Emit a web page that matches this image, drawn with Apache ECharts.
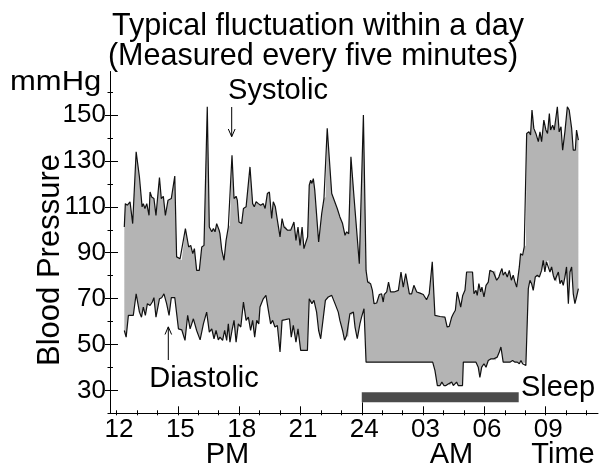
<!DOCTYPE html>
<html>
<head>
<meta charset="utf-8">
<script src="https://cdn.jsdelivr.net/npm/echarts@6/dist/echarts.min.js"></script>
<style>
html,body{margin:0;padding:0;background:#fff;}
#chart{width:599px;height:467px;}
</style>
</head>
<body>
<div id="chart"></div>
<script>
// ---- data (hours since midnight of day 1; values in mmHg) ----
const systolic = [
[12.38,101.2],[12.43,111.4],[12.53,110.7],[12.66,112.2],[12.79,102.7],[12.96,134.0],[13.12,123.0],[13.25,110.0],[13.31,111.4],[13.39,109.3],
[13.48,111.4],[13.59,106.3],[13.64,116.5],[13.72,114.3],[13.83,113.6],[13.93,106.3],[14.10,122.8],[14.19,113.6],[14.29,114.6],[14.39,106.3],
[14.52,112.9],[14.68,113.6],[14.85,123.4],[14.94,88.2],[15.11,87.4],[15.19,86.7],[15.37,100.5],[15.53,92.5],[15.63,93.2],[15.73,89.6],
[15.81,91.8],[15.92,82.3],[16.05,82.3],[16.17,92.5],[16.28,93.2],[16.44,153.6],[16.54,101.2],[16.66,99.1],[16.74,100.5],[16.82,99.1],
[16.90,102.7],[17.02,99.8],[17.06,98.3],[17.15,91.1],[17.26,86.7],[17.36,95.4],[17.47,101.2],[17.55,102.0],[17.65,132.5],[17.75,113.6],
[17.85,114.6],[17.91,112.9],[17.99,103.4],[18.12,102.7],[18.21,109.3],[18.34,110.0],[18.53,127.4],[18.66,111.4],[18.74,110.0],[18.83,112.2],
[18.94,111.4],[19.05,110.7],[19.18,111.4],[19.27,109.3],[19.38,115.8],[19.48,116.5],[19.59,104.9],[19.67,112.2],[19.77,110.0],[19.87,104.2],
[20.00,96.9],[20.10,104.9],[20.20,101.2],[20.28,101.5],[20.37,99.8],[20.46,100.5],[20.52,99.8],[20.62,102.0],[20.68,103.4],[20.78,95.4],
[20.88,101.2],[20.98,93.2],[21.08,101.2],[21.17,91.8],[21.27,94.7],[21.35,96.9],[21.43,119.4],[21.50,121.6],[21.56,120.2],[21.63,122.3],
[21.70,117.3],[21.89,94.7],[22.04,107.1],[22.15,113.6],[22.23,114.3],[22.31,144.2],[22.53,115.8],[22.80,109.3],[22.93,105.6],[23.06,102.7],
[23.18,97.6],[23.26,99.1],[23.36,98.3],[23.47,131.8],[23.62,114.3],[23.75,99.8],[23.88,85.2],[24.08,150.0],[24.21,82.3],[24.29,77.2],
[24.37,78.0],[24.43,76.5],[24.52,73.6],[24.60,67.8],[24.73,68.1],[24.86,71.8],[24.97,72.1],[25.05,68.5],[25.10,71.8],[25.22,72.9],
[25.31,77.2],[25.41,72.9],[25.58,72.9],[25.79,73.6],[25.92,81.6],[26.03,75.0],[26.15,80.9],[26.24,76.5],[26.33,72.1],[26.44,72.1],
[26.55,75.8],[26.69,72.9],[26.85,72.4],[27.01,71.8],[27.17,69.5],[27.30,72.1],[27.45,86.0],[27.58,62.7],[27.83,62.2],[28.07,61.9],
[28.18,57.6],[28.28,57.9],[28.40,61.9],[28.48,63.4],[28.58,64.9],[28.67,72.9],[28.77,69.2],[28.84,66.3],[28.94,71.4],[29.05,73.6],
[29.13,81.6],[29.29,81.6],[29.42,81.6],[29.49,72.1],[29.59,73.6],[29.65,71.4],[29.73,76.5],[29.82,72.9],[29.88,75.0],[29.98,70.7],
[30.08,75.8],[30.19,77.2],[30.27,82.3],[30.44,81.6],[30.53,82.3],[30.60,78.0],[30.71,79.4],[30.79,81.6],[30.86,83.1],[30.92,80.2],
[31.02,81.6],[31.12,79.4],[31.22,82.3],[31.32,78.0],[31.41,80.2],[31.50,77.2],[31.58,75.0],[31.71,83.8],[31.77,89.6],[31.87,88.9],
[31.95,92.5],[32.03,93.2],[32.07,142.0],[32.18,142.7],[32.26,141.3],[32.33,152.2],[32.42,144.2],[32.52,142.0],[32.64,138.4],[32.72,142.7],
[32.80,138.4],[32.91,147.8],[33.01,143.5],[33.09,142.0],[33.18,150.7],[33.24,143.5],[33.34,145.6],[33.42,143.5],[33.57,153.6],[33.66,142.7],
[33.75,144.9],[33.83,134.7],[33.94,142.7],[34.06,153.6],[34.15,152.2],[34.27,144.2],[34.35,134.7],[34.45,134.7],[34.51,143.5],[34.60,139.1]
];
const diastolic = [
[12.38,56.1],[12.47,53.2],[12.58,62.7],[12.82,62.7],[12.96,72.1],[13.12,64.1],[13.22,61.9],[13.31,66.3],[13.41,62.7],[13.51,67.8],
[13.64,67.0],[13.75,68.5],[13.83,70.4],[13.93,61.9],[14.10,69.9],[14.21,70.4],[14.32,72.1],[14.45,67.8],[14.57,62.7],[14.68,70.4],
[14.85,70.4],[15.03,56.8],[15.19,56.4],[15.35,51.8],[15.48,62.7],[15.60,56.8],[15.76,61.2],[15.92,56.1],[16.09,52.0],[16.25,59.0],
[16.41,64.1],[16.54,55.4],[16.66,56.8],[16.77,52.5],[16.87,56.1],[16.98,52.0],[17.06,53.2],[17.19,51.8],[17.29,56.1],[17.39,51.8],
[17.47,59.0],[17.55,51.0],[17.65,56.1],[17.75,60.5],[17.85,51.0],[17.96,59.0],[18.08,57.6],[18.21,68.5],[18.34,60.5],[18.45,61.9],
[18.56,56.1],[18.66,60.5],[18.76,53.2],[18.86,60.5],[18.96,59.0],[19.02,66.3],[19.18,69.9],[19.31,71.4],[19.43,64.9],[19.54,59.0],
[19.64,60.5],[19.75,57.6],[19.87,58.3],[20.00,46.7],[20.10,60.5],[20.26,60.8],[20.46,61.2],[20.55,53.2],[20.65,58.3],[20.78,51.0],
[20.88,56.8],[21.01,47.4],[21.17,47.4],[21.34,47.4],[21.43,69.9],[21.56,67.8],[21.66,69.2],[21.79,64.1],[21.89,56.1],[21.99,52.5],
[22.12,61.9],[22.22,69.2],[22.36,70.7],[22.53,71.4],[22.69,67.8],[22.85,64.1],[22.93,60.5],[23.06,56.1],[23.16,51.8],[23.26,53.9],
[23.34,53.2],[23.42,63.4],[23.50,62.7],[23.59,64.1],[23.67,57.6],[23.78,52.5],[23.91,59.0],[23.99,61.9],[24.11,65.6],[24.21,42.3],
[27.47,42.3],[27.58,38.7],[27.70,32.1],[27.83,32.1],[27.92,33.6],[28.02,32.1],[28.12,32.1],[28.23,32.8],[28.32,32.1],[28.40,33.6],
[28.48,32.1],[28.64,33.6],[28.72,32.1],[28.93,32.1],[28.97,42.3],[29.59,42.3],[29.70,40.1],[29.78,35.7],[29.87,40.1],[29.98,41.6],
[30.08,40.1],[30.19,43.0],[30.31,43.7],[30.44,43.7],[30.53,43.0],[30.63,44.5],[30.73,46.7],[30.81,48.9],[30.92,42.3],[31.25,42.3],
[31.38,43.0],[31.50,42.3],[31.61,42.3],[31.71,41.6],[31.79,43.0],[31.87,41.6],[31.95,42.3],[32.03,40.8],[32.15,74.3],[32.23,78.0],
[32.31,76.5],[32.39,73.6],[32.49,79.4],[32.59,80.2],[32.69,79.4],[32.80,82.3],[32.88,86.7],[32.96,81.6],[33.04,86.0],[33.13,86.7],
[33.21,81.6],[33.29,83.8],[33.37,80.2],[33.45,78.0],[33.53,77.2],[33.62,81.6],[33.70,76.5],[33.78,78.0],[33.86,75.8],[33.94,79.4],
[34.02,83.8],[34.11,67.8],[34.19,81.6],[34.27,83.8],[34.35,72.1],[34.43,67.8],[34.51,70.7],[34.60,74.3]
];
const sleepStart = 24.0;
const sleepEnd = 31.68;
const sleepLevel = 27.0;

const xTickHours  = [12, 15, 18, 21, 24, 27, 30, 33];
const xTickLabels = ['12','15','18','21','24','03','06','09'];
const yTickValues = [30, 50, 70, 90, 110, 130, 150];

// ---- axis geometry ----
const X_MIN = 11.68, X_MAX = 35.56;
const Y_MIN = 20, Y_MAX = 169;
const FONT = "'Liberation Sans', Arial, Helvetica, sans-serif";

const hourTicks = [];
for (let h = 12; h <= 35; h++) hourTicks.push(h);
const tenTicks = [];
for (let v = 20; v <= 160; v += 10) tenTicks.push(v);
const majorHourTicks = xTickHours.filter(h => h !== 12 && h !== 24);

function xAxisBase(extra) {
  return Object.assign({
    type: 'value', min: X_MIN, max: X_MAX, position: 'bottom',
    axisLine: { show: false },
    axisLabel: { show: false },
    splitLine: { show: false },
    axisTick: { show: false }
  }, extra);
}
function yAxisBase(extra) {
  return Object.assign({
    type: 'value', min: Y_MIN, max: Y_MAX, position: 'left',
    axisLine: { show: false },
    axisLabel: { show: false },
    splitLine: { show: false },
    axisTick: { show: false }
  }, extra);
}
const tickStyle = { color: '#000', width: 1 };

const chart = echarts.init(document.getElementById('chart'), null, { renderer: 'canvas' });

const option = {
  animation: false,
  backgroundColor: '#fff',
  grid: { left: 110, right: 1, top: 71.5, bottom: 53.7, containLabel: false },
  xAxis: [
    xAxisBase({
      axisLine: { show: true, lineStyle: { color: '#000', width: 1 } },
      axisTick: { show: true, inside: true, length: 7, customValues: majorHourTicks, lineStyle: tickStyle },
      axisLabel: {
        show: true, customValues: xTickHours, margin: 4, color: '#000', fontSize: 26, fontFamily: FONT,
        padding: [0, 0, 0, 5],
        formatter: function (v) {
          const i = xTickHours.indexOf(Math.round(v));
          return i >= 0 ? xTickLabels[i] : '';
        }
      }
    }),
    xAxisBase({ axisTick: { show: true, inside: true, length: 3, customValues: hourTicks, lineStyle: tickStyle } }),
    xAxisBase({ axisTick: { show: true, inside: false, length: 2, customValues: hourTicks, lineStyle: tickStyle } }),
    xAxisBase({ axisTick: { show: true, inside: true, length: 11, customValues: [24], lineStyle: tickStyle } })
  ],
  yAxis: [
    yAxisBase({
      axisLine: { show: true, lineStyle: { color: '#000', width: 1 } },
      axisTick: { show: true, inside: false, length: 5, customValues: yTickValues, lineStyle: tickStyle },
      axisLabel: { show: true, customValues: yTickValues, margin: 4, color: '#000', fontSize: 26, fontFamily: FONT }
    }),
    yAxisBase({ axisTick: { show: true, inside: true, length: 8, customValues: yTickValues, lineStyle: tickStyle } }),
    yAxisBase({ axisTick: { show: true, inside: false, length: 2.5, customValues: tenTicks, lineStyle: tickStyle } }),
    yAxisBase({ axisTick: { show: true, inside: true, length: 3, customValues: tenTicks, lineStyle: tickStyle } })
  ],
  series: [
    {
      type: 'custom',
      name: 'band',
      xAxisIndex: 0, yAxisIndex: 0,
      silent: true,
      z: 1,
      data: [[systolic[0][0], systolic[0][1]]],
      renderItem: function (params, api) {
        const pts = [];
        for (let i = 0; i < systolic.length; i++) pts.push(api.coord(systolic[i]));
        for (let i = diastolic.length - 1; i >= 0; i--) pts.push(api.coord(diastolic[i]));
        return { type: 'polygon', shape: { points: pts }, style: { fill: '#b4b4b4', stroke: null } };
      }
    },
    {
      type: 'line', name: 'Systolic', data: systolic, xAxisIndex: 0, yAxisIndex: 0,
      showSymbol: false, symbol: 'none', z: 3, silent: true,
      lineStyle: { color: '#111', width: 1.2 }
    },
    {
      type: 'line', name: 'Diastolic', data: diastolic, xAxisIndex: 0, yAxisIndex: 0,
      showSymbol: false, symbol: 'none', z: 3, silent: true,
      lineStyle: { color: '#111', width: 1.2 }
    },
    {
      type: 'line', name: 'Sleep', data: [[sleepStart, sleepLevel], [sleepEnd, sleepLevel]],
      xAxisIndex: 0, yAxisIndex: 0, showSymbol: false, symbol: 'none', z: 3, silent: true,
      lineStyle: { color: '#4b4b4b', width: 10, cap: 'butt' }
    }
  ],
  graphic: {
    elements: [
      { type: 'text', x: 318, y: 27, style: { text: 'Typical fluctuation within a day', fontSize: 30.5, fontFamily: FONT, fill: '#000', align: 'center', verticalAlign: 'middle' } },
      { type: 'text', x: 313, y: 57, style: { text: '(Measured every five minutes)', fontSize: 30.5, fontFamily: FONT, fill: '#000', align: 'center', verticalAlign: 'middle' } },
      { type: 'text', x: 10, y: 82, scaleY: 0.92, style: { text: 'mmHg', fontSize: 31, fontFamily: FONT, fill: '#000', align: 'left', verticalAlign: 'middle' } },
      { type: 'text', x: 50, y: 260, rotation: Math.PI / 2, style: { text: 'Blood Pressure', fontSize: 31, fontFamily: FONT, fill: '#000', align: 'center', verticalAlign: 'middle' } },
      { type: 'text', x: 278, y: 91, style: { text: 'Systolic', fontSize: 29, fontFamily: FONT, fill: '#000', align: 'center', verticalAlign: 'middle' } },
      { type: 'text', x: 204, y: 379, style: { text: 'Diastolic', fontSize: 29, fontFamily: FONT, fill: '#000', align: 'center', verticalAlign: 'middle' } },
      { type: 'text', x: 558, y: 388, style: { text: 'Sleep', fontSize: 29, fontFamily: FONT, fill: '#000', align: 'center', verticalAlign: 'middle' } },
      { type: 'text', x: 227.5, y: 454.5, style: { text: 'PM', fontSize: 29, fontFamily: FONT, fill: '#000', align: 'center', verticalAlign: 'middle' } },
      { type: 'text', x: 451.5, y: 455, style: { text: 'AM', fontSize: 29, fontFamily: FONT, fill: '#000', align: 'center', verticalAlign: 'middle' } },
      { type: 'text', x: 563, y: 455, style: { text: 'Time', fontSize: 29, fontFamily: FONT, fill: '#000', align: 'center', verticalAlign: 'middle' } },
      // systolic arrow
      { type: 'polyline', shape: { points: [[231.7, 107], [231.7, 136.5]] }, style: { stroke: '#000', lineWidth: 1, fill: null } },
      { type: 'polyline', shape: { points: [[228.3, 129], [231.7, 136.7], [235.1, 129]] }, style: { stroke: '#000', lineWidth: 1, fill: null } },
      // diastolic arrow
      { type: 'polyline', shape: { points: [[168.3, 360], [168.3, 327]] }, style: { stroke: '#000', lineWidth: 1, fill: null } },
      { type: 'polyline', shape: { points: [[165, 334.5], [168.3, 326.8], [171.6, 334.5]] }, style: { stroke: '#000', lineWidth: 1, fill: null } }
    ]
  }
};
chart.setOption(option);
</script>
</body>
</html>
